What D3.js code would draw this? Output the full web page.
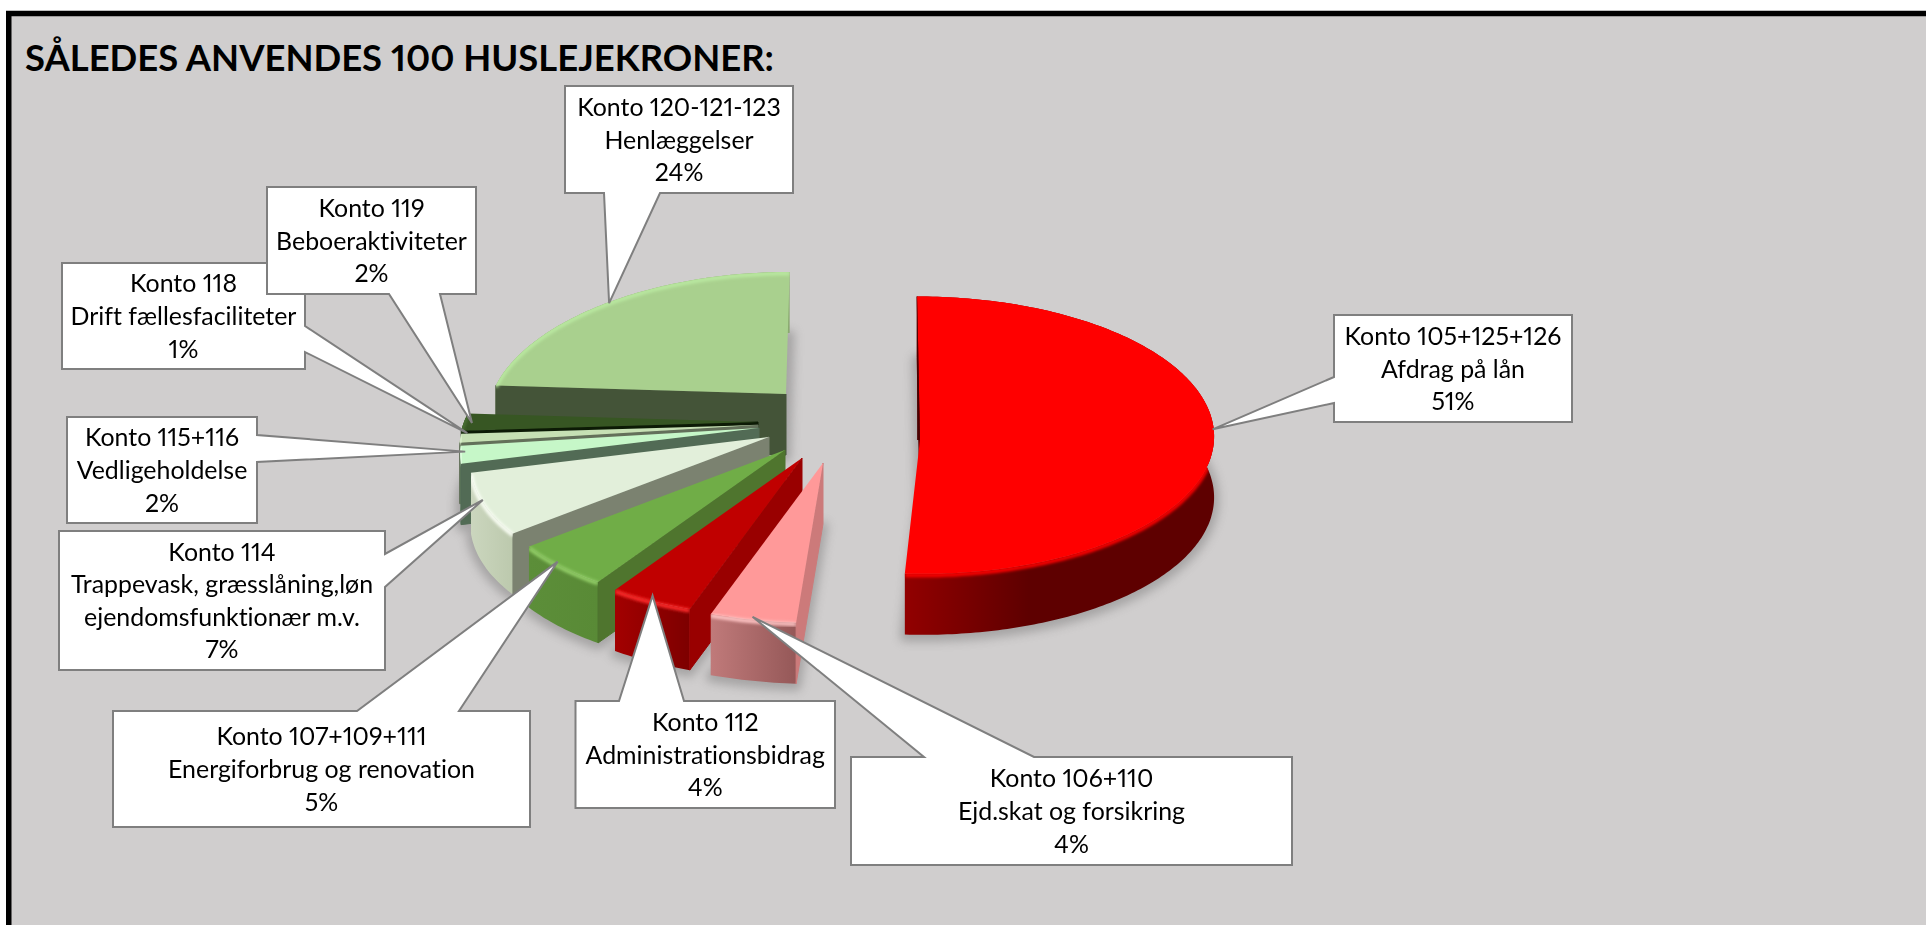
<!DOCTYPE html>
<html>
<head>
<meta charset="utf-8">
<title>Huslejekroner</title>
<script src="https://cdn.jsdelivr.net/npm/d3@7"></script>
<style>
  body { margin: 0; background: #fff; }
  svg { display: block; }
  text { font-family: Lato, "Open Sans", sans-serif; fill: #000; font-variant-ligatures: none; font-variant-numeric: proportional-nums; }
</style>
</head>
<body>
<div id="chart"></div>
<script>
// the data, in pie order, clockwise from 12 o'clock
var accounts = ["Konto 105+125+126", "Konto 106+110", "Konto 112", "Konto 107+109+111", "Konto 114",
                "Konto 115+116", "Konto 118", "Konto 119", "Konto 120-121-123"];
var names = ["Afdrag på lån", "Ejd.skat og forsikring", "Administrationsbidrag", "Energiforbrug og renovation",
             "Trappevask, græsslåning,løn\nejendomsfunktionær m.v.", "Vedligeholdelse", "Drift fællesfaciliteter",
             "Beboeraktiviteter", "Henlæggelser"];
var values = [51, 4, 4, 5, 7, 2, 1, 2, 24];

// slice colours
var topColor   = ["#ff0000", "#ff9999", "#c00000", "#70ad47", "#e2efda", "#c6f7c8", "#c6e0b4", "#375623", "#a9d08e"];
var rimColor   = ["#ff0000", "#ffc4c4", "#ff2a2a", "#93cf68", "#fbfff6", "#e4ffe4", "#dcefcd", "#4a7030", "#b9e8a0"];
var startWall  = ["#600000", "#cc7a7a", "#990000", "#4f752e", "#7b8270", "#526b55", "#63705a", "#0c1a05", "#445438"];
var wallLeft   = ["#920000", "#c07a7a", "#a30000", "#5c8e39", "#cbd6be", "#5b8c5f", "#6a8060", "#2f4a1c", "#8aa870"];
var wallRight  = ["#5e0000", "#955858", "#7d0000", "#598a36", "#bcc9ad", "#5b8c5f", "#6a8060", "#2f4a1c", "#8aa870"];

// how each slice sits in the 3d view: explosion offset, perspective, lean
var explodeX = [120, 23, 2, -15, -31, -41, -42, -42, -14];
var explodeY = [10, 33, 28, 20, 7, -2, -5, -8, -36];
var persp    = [-0.035, 0.135, 0.135, 0.135, 0.135, 0.135, 0.135, 0.135, 0.135];
var perspX   = [-0.035, 0.165, 0.165, 0.165, 0.165, 0.165, 0.165, 0.165, 0.165];
var lean     = [0.02, -0.03, -0.03, -0.03, -0.03, -0.03, -0.03, -0.03, -0.03];

// callouts: box [x0, y0, x1, y1], side the wedge leaves from, and wedge base
var boxes = [[1334, 315, 1572, 422], [851, 757, 1292, 865], [575.5, 701, 835, 808], [113, 711, 530, 827],
             [59, 531, 385, 670], [67, 417, 257, 523], [62, 263, 305, 369], [267, 187, 476, 294], [565, 86, 793, 193]];
var sides = ["left", "top", "top", "top", "right", "right", "right", "bottom", "bottom"];
var bases = [[377, 403], [924, 1034], [619, 684], [357, 459], [554, 587], [435, 462], [326, 352], [389, 440], [604, 660]];
var tipNudge = [[-1, -15], [0, -3], [2, -5], [-2, -4], [-1, -4], [5, -3], [7, -5], [8, 1], [0, 1]];

var width = 1926, height = 925,
    cx = 800, cy = 430, depth = 61;

var rx = d3.scaleLinear().domain([-1, 1]).range([-294, 294]),
    ry = d3.scaleLinear().domain([-1, 1]).range([-138.5, 138.5]);

var svg = d3.select("#chart").append("svg")
    .attr("width", width)
    .attr("height", height);

var defs = svg.append("defs");
defs.append("filter").attr("id", "soft").attr("x", "-20%").attr("y", "-20%").attr("width", "140%").attr("height", "140%")
  .append("feGaussianBlur").attr("stdDeviation", 5);
defs.append("filter").attr("id", "rim").attr("x", "-10%").attr("y", "-30%").attr("width", "120%").attr("height", "160%")
  .append("feGaussianBlur").attr("stdDeviation", 1.6);

// background with the heavy black frame, open on the right and at the bottom
svg.append("rect")
    .attr("x", 8.75).attr("y", 13.5)
    .attr("width", width + 40).attr("height", height + 40)
    .attr("fill", "#d0cece")
    .attr("stroke", "#000")
    .attr("stroke-width", 5.5);

svg.append("text")
    .attr("x", 25).attr("y", 71)
    .attr("font-size", 37)
    .attr("font-weight", 700)
    .attr("textLength", 749)
    .attr("lengthAdjust", "spacingAndGlyphs")
    .text("SÅLEDES ANVENDES 100 HUSLEJEKRONER:");

var arcs = d3.pie().sort(null).value(function(d) { return d; })(values);

// a point on slice i, at angle theta and radius r (1 = rim)
function project(i, theta, r) {
  var c = Math.cos(theta) * r,
      dy = ry(-c / (1 + persp[i] * c)),
      dx = rx(Math.sin(theta) * r / (1 + perspX[i] * c));
  return [cx + explodeX[i] + dx + lean[i] * dy, cy + explodeY[i] + dy];
}

function rimPoints(d) {
  var n = Math.max(6, Math.ceil((d.endAngle - d.startAngle) * 60));
  return d3.range(n + 1).map(function(j) {
    return project(d.index, d.startAngle + (d.endAngle - d.startAngle) * j / n, 1);
  });
}

function down(p, by) { return [p[0], p[1] + by]; }

var line = d3.line();

function topFace(d) {
  return line([project(d.index, 0, 0)].concat(rimPoints(d))) + "Z";
}
function outerWall(d) {
  var rim = rimPoints(d);
  var low = rim.map(function(p) { return down(p, depth); }).reverse();
  return line(rim.concat(low)) + "Z";
}
function sideWall(d) {
  var a = project(d.index, 0, 0), b = project(d.index, d.startAngle, 1);
  return line([a, b, down(b, depth), down(a, depth)]) + "Z";
}

// soft shadow below everything, from the slice floors
svg.append("g")
    .attr("filter", "url(#soft)")
    .attr("opacity", 0.5)
  .selectAll("path")
  .data(arcs)
  .enter().append("path")
    .attr("d", topFace)
    .attr("transform", "translate(0," + (depth + 2) + ")")
    .attr("fill", "#7d7b7c")
    .attr("stroke", "#7d7b7c")
    .attr("stroke-width", 10)
    .attr("stroke-linejoin", "round");

// wall gradients run left to right over each slice's rim
defs.selectAll("linearGradient")
  .data(arcs)
  .enter().append("linearGradient")
    .attr("id", function(d) { return "wall" + d.index; })
    .attr("gradientUnits", "userSpaceOnUse")
    .attr("x1", function(d) { return d3.min(rimPoints(d), function(p) { return p[0]; }); })
    .attr("x2", function(d) {
      var xs = d3.extent(rimPoints(d), function(p) { return p[0]; });
      return d.index == 0 ? xs[0] + (xs[1] - xs[0]) * 0.4 : xs[1];
    })
    .attr("y1", 0).attr("y2", 0)
    .each(function(d) {
      d3.select(this).append("stop").attr("offset", 0).attr("stop-color", wallLeft[d.index]);
      d3.select(this).append("stop").attr("offset", 1).attr("stop-color", wallRight[d.index]);
    });

// the bevel must stay on the slice, so clip it to top face plus outer wall
var clips = defs.selectAll("clipPath")
    .data(arcs)
  .enter().append("clipPath")
    .attr("id", function(d) { return "body" + d.index; });
clips.append("path").attr("d", topFace);
clips.append("path").attr("d", outerWall);

// back to front: the left hand slices stack up towards the viewer, last to first
var order = arcs.slice().reverse();

var slice = svg.selectAll(".slice")
    .data(order)
  .enter().append("g")
    .attr("class", "slice");

slice.append("path")
    .attr("d", outerWall)
    .attr("fill", function(d) { return "url(#wall" + d.index + ")"; });

slice.append("path")
    .attr("d", sideWall)
    .attr("fill", function(d) { return startWall[d.index]; })
    .attr("stroke", function(d) { return startWall[d.index]; })
    .attr("stroke-width", 1)
    .attr("stroke-linejoin", "round");

slice.append("path")
    .attr("d", topFace)
    .attr("fill", function(d) { return topColor[d.index]; });

// bevel along the outer edge of the top face
slice.append("g")
    .attr("clip-path", function(d) { return "url(#body" + d.index + ")"; })
  .append("path")
    .attr("d", function(d) { return line(rimPoints(d).map(function(p) { return down(p, 1.5); })); })
    .attr("fill", "none")
    .attr("stroke", function(d) { return rimColor[d.index]; })
    .attr("stroke-width", 4)
    .attr("filter", "url(#rim)");

// dark sliver on the inside of the big slice
var big = arcs[0];
var bigRim = project(0, big.startAngle, 1), bigApex = project(0, 0, 0);
svg.append("path")
    .attr("d", line([bigRim, bigApex, [bigRim[0], bigApex[1]]]) + "Z")
    .attr("fill", "#4a0000");

// callouts
function calloutPath(i, tip) {
  var b = boxes[i], s = sides[i], w = bases[i],
      x0 = b[0], y0 = b[1], x1 = b[2], y1 = b[3],
      t = tip[0] + "," + tip[1];
  if (s == "top")
    return "M" + x0 + "," + y0 + "H" + w[0] + "L" + t + "L" + w[1] + "," + y0 + "H" + x1 + "V" + y1 + "H" + x0 + "Z";
  if (s == "right")
    return "M" + x0 + "," + y0 + "H" + x1 + "V" + w[0] + "L" + t + "L" + x1 + "," + w[1] + "V" + y1 + "H" + x0 + "Z";
  if (s == "bottom")
    return "M" + x0 + "," + y0 + "H" + x1 + "V" + y1 + "H" + w[1] + "L" + t + "L" + w[0] + "," + y1 + "H" + x0 + "Z";
  return "M" + x0 + "," + y0 + "H" + x1 + "V" + y1 + "H" + x0 + "V" + w[1] + "L" + t + "L" + x0 + "," + w[0] + "Z";
}

var callout = svg.selectAll(".callout")
    .data(arcs)
  .enter().append("g")
    .attr("class", "callout");

callout.append("path")
    .attr("d", function(d) {
      var p = project(d.index, (d.startAngle + d.endAngle) / 2, 1);
      return calloutPath(d.index, [p[0] + tipNudge[d.index][0], p[1] + tipNudge[d.index][1]]);
    })
    .attr("fill", "#fff")
    .attr("stroke", "#7f7f7f")
    .attr("stroke-width", 2);

callout.each(function(d) {
  var i = d.index, b = boxes[i],
      lines = [accounts[i]].concat(names[i].split("\n"), [values[i] + "%"]),
      lh = 32.6,
      first = (b[1] + b[3]) / 2 + 9 - lh * (lines.length - 1) / 2;
  d3.select(this).selectAll("text")
      .data(lines)
    .enter().append("text")
      .attr("x", (b[0] + b[2]) / 2)
      .attr("y", function(t, j) { return first + j * lh; })
      .attr("text-anchor", "middle")
      .attr("font-size", 24.9)
      .text(function(t) { return t; });
});
</script>
</body>
</html>
